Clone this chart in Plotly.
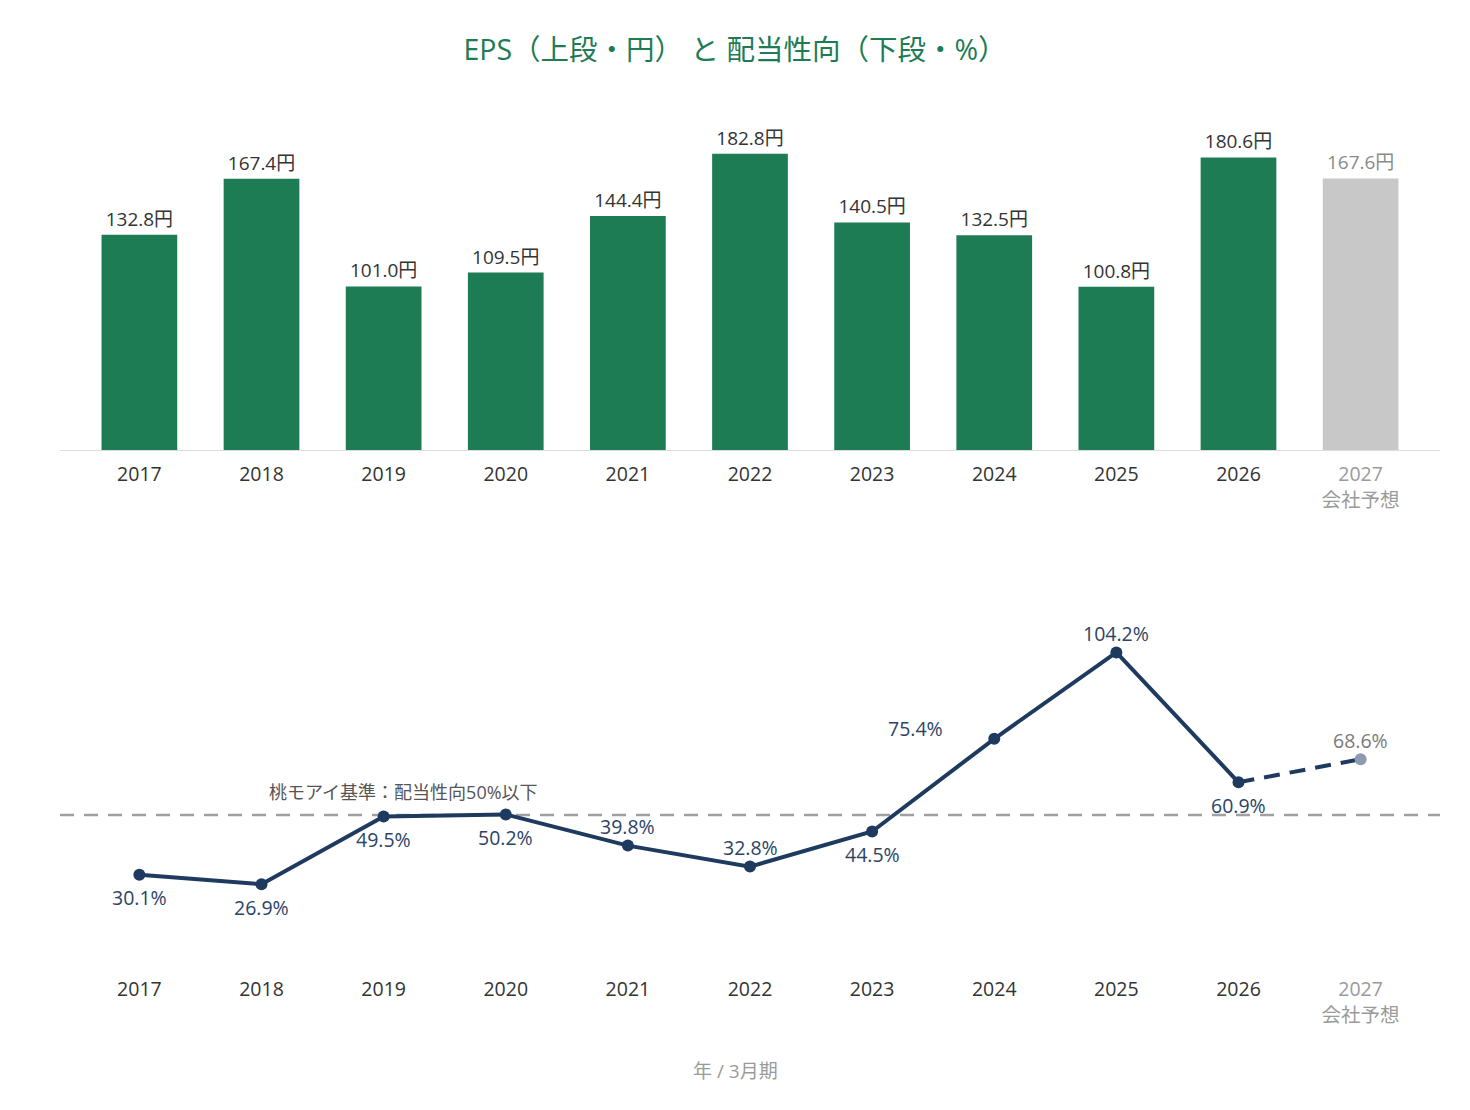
import plotly.graph_objects as go

years = ["2017", "2018", "2019", "2020", "2021", "2022", "2023", "2024", "2025", "2026", "2027"]
tick_labels = ["2017", "2018", "2019", "2020", "2021", "2022", "2023", "2024", "2025", "2026",
               "<span style='color:#9a9a9a'>2027</span><br><span style='color:#9a9a9a'>会社予想</span>"]
eps = [132.8, 167.4, 101.0, 109.5, 144.4, 182.8, 140.5, 132.5, 100.8, 180.6, 167.6]
payout = [30.1, 26.9, 49.5, 50.2, 39.8, 32.8, 44.5, 75.4, 104.2, 60.9, 68.6]
payout_label_pos = ["below", "below", "below", "below", "above", "above", "below", "left", "above", "below", "above"]
threshold = 50
threshold_label = "桃モアイ基準：配当性向50%以下"
title_text = "EPS（上段・円） と 配当性向（下段・%）"
xlabel_text = "年 / 3月期"

FONT = "Open Sans, Noto Sans CJK JP"
GREEN = "#1d7c53"
GREY_BAR = "#c8c8c8"
NAVY = "#1f3a5f"
FORECAST_MARK = "#8e9ab0"

fig = go.Figure()

n_actual = len(years) - 1
idx = list(range(len(years)))
bar_colors = [GREEN] * n_actual + [GREY_BAR]
bar_text_colors = ["#333333"] * n_actual + ["#8a8a8a"]

fig.add_trace(go.Bar(
    x=years, y=eps, marker=dict(color=bar_colors, line=dict(width=0)),
    width=0.62,
    text=[f"{v:.1f}円" for v in eps], textposition="outside",
    textfont=dict(family=FONT, size=19, color=bar_text_colors),
    cliponaxis=False, xaxis="x", yaxis="y", hoverinfo="skip", showlegend=False,
))

# actual payout line
fig.add_trace(go.Scatter(
    x=years[:n_actual], y=payout[:n_actual], mode="lines+markers",
    line=dict(color=NAVY, width=4), marker=dict(size=12, color=NAVY),
    xaxis="x2", yaxis="y2", cliponaxis=False, showlegend=False, hoverinfo="skip",
))
# forecast dashed segment
fig.add_trace(go.Scatter(
    x=years[n_actual - 1:], y=payout[n_actual - 1:], mode="lines",
    line=dict(color=NAVY, width=4, dash="16px,10px"),
    xaxis="x2", yaxis="y2", cliponaxis=False, showlegend=False, hoverinfo="skip",
))
fig.add_trace(go.Scatter(
    x=[years[-1]], y=[payout[-1]], mode="markers",
    marker=dict(size=12, color=FORECAST_MARK),
    xaxis="x2", yaxis="y2", cliponaxis=False, showlegend=False, hoverinfo="skip",
))

# threshold line
fig.add_shape(type="line", xref="x2 domain", yref="y2", x0=0, x1=1, y0=threshold, y1=threshold,
              line=dict(color="#a0a0a0", width=2.5, dash="14px,10px"), layer="below")
fig.add_annotation(x=idx[1], y=threshold, xref="x2", yref="y2", text=threshold_label,
                   showarrow=False, xanchor="left", yanchor="middle", xshift=5, yshift=23,
                   font=dict(family=FONT, size=18, color="#555555"))

# payout labels
for i, v, pos in zip(idx, payout, payout_label_pos):
    color = "#7a7a7a" if i == len(years) - 1 else "#2c4466"
    xs, ys = 0, 0
    if pos == "below":
        ys = -23
    elif pos == "above":
        ys = 19
    elif pos == "left":
        xs, ys = -79, 10
    fig.add_annotation(x=i, y=v, xref="x2", yref="y2", text=f"{v:.1f}%", showarrow=False,
                       xshift=xs, yshift=ys, xanchor="center", yanchor="middle",
                       font=dict(family=FONT, size=19.5, color=color))

fig.add_annotation(x=(735 - 60) / 1380, y=1 - 1071 / 1110, xref="paper", yref="paper", text=xlabel_text,
                   showarrow=False, xanchor="center", yanchor="middle",
                   font=dict(family=FONT, size=19, color="#9a9a9a"))

H = 1110
axis_common = dict(type="category", range=[-0.65, 10.65], tickmode="array", tickvals=years,
                   ticktext=tick_labels, tickfont=dict(family=FONT, size=19.5, color="#333333"),
                   showgrid=False, zeroline=False, ticks="outside", tickcolor="rgba(0,0,0,0)",
                   fixedrange=True)

fig.update_layout(
    width=1470, height=H,
    margin=dict(l=60, r=30, t=0, b=0),
    paper_bgcolor="white", plot_bgcolor="white",
    title=dict(text=title_text, x=0.5, xref="container", y=1 - 50 / H, yref="container",
               xanchor="center", yanchor="middle",
               font=dict(family=FONT, size=28.5, color=GREEN)),
    xaxis=dict(**axis_common, anchor="y", ticklen=7, showline=True, linecolor="#dddddd", linewidth=1),
    yaxis=dict(domain=[(H - 450) / H, (H - 126) / H], range=[0, 200], visible=False, fixedrange=True),
    xaxis2=dict(**axis_common, anchor="y2", ticklen=7, showline=False),
    yaxis2=dict(domain=[(H - 965) / H, (H - 620) / H], range=[0, 115], visible=False, fixedrange=True),
    font=dict(family=FONT),
    showlegend=False,
)

fig.write_html("out.html")
